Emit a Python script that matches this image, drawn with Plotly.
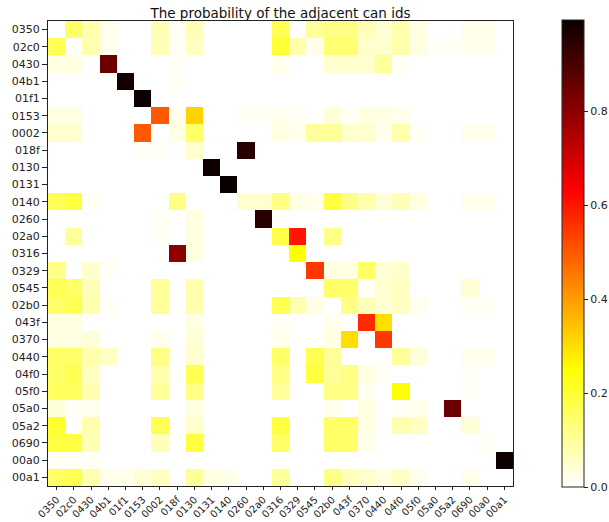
import plotly.graph_objects as go

labels = ["0350", "02c0", "0430", "04b1", "01f1", "0153", "0002", "018f", "0130",
          "0131", "0140", "0260", "02a0", "0316", "0329", "0545", "02b0", "043f",
          "0370", "0440", "04f0", "05f0", "05a0", "05a2", "0690", "00a0", "00a1"]

# probability matrix: rows = current id, columns = adjacent id (order = labels)
z = [
    [0, .15, .08, .02, 0, 0, .07, .01, .07, 0, 0, 0, 0, .17, 0, .10, .12, .12, .07, .04, .08, .03, 0, 0, .02, .02, 0],
    [.17, 0, .08, .02, 0, 0, .07, .01, .06, 0, 0, 0, 0, .20, .08, .02, .14, .14, .05, .05, .08, .03, .01, .01, .02, .02, 0],
    [.03, .03, 0, .85, 0, 0, 0, .01, 0, 0, 0, 0, 0, .02, 0, 0, .05, .05, .05, .10, .01, 0, 0, 0, 0, 0, 0],
    [0, 0, 0, 0, .98, 0, 0, .01, 0, 0, 0, 0, 0, 0, 0, 0, 0, 0, 0, 0, 0, 0, 0, 0, 0, 0, 0],
    [0, 0, 0, 0, 0, .99, 0, 0, 0, 0, 0, 0, 0, 0, 0, 0, 0, 0, 0, 0, 0, 0, 0, 0, 0, 0, 0],
    [.03, .03, 0, 0, 0, 0, .50, .02, .32, 0, 0, .01, .01, .02, .01, 0, .04, .01, .03, .03, .02, 0, 0, 0, 0, 0, 0],
    [.05, .05, 0, 0, 0, .50, 0, .03, .15, 0, 0, 0, 0, .03, .02, .10, .10, .05, .05, .02, .08, .01, 0, 0, .02, .02, 0],
    [0, 0, 0, 0, 0, .01, .01, 0, .05, 0, 0, .95, 0, 0, 0, 0, 0, 0, 0, 0, 0, 0, 0, 0, 0, 0, 0],
    [0, 0, 0, 0, 0, 0, 0, 0, 0, .99, 0, 0, 0, 0, 0, 0, 0, 0, 0, 0, 0, 0, 0, 0, 0, 0, 0],
    [0, 0, 0, 0, 0, 0, 0, 0, 0, 0, .995, 0, 0, 0, 0, 0, 0, 0, 0, 0, 0, 0, 0, 0, 0, 0, 0],
    [.17, .19, .01, 0, 0, 0, 0, .12, 0, 0, 0, .05, .05, .12, .03, .02, .19, .12, .08, .04, .07, .03, 0, 0, .02, .02, 0],
    [0, 0, 0, 0, 0, 0, .01, 0, .03, 0, 0, 0, .95, 0, 0, 0, 0, 0, 0, 0, 0, 0, 0, 0, 0, 0, 0],
    [0, .10, 0, 0, 0, 0, .01, 0, .03, 0, 0, 0, 0, .18, .60, 0, .12, 0, 0, 0, 0, 0, 0, 0, 0, 0, 0],
    [0, 0, 0, 0, 0, 0, 0, .80, .03, 0, 0, 0, 0, 0, .25, 0, 0, 0, 0, 0, 0, 0, 0, 0, 0, 0, 0],
    [.12, 0, .05, .01, 0, 0, 0, 0, 0, 0, 0, 0, 0, 0, 0, .55, .03, .03, .15, .04, .05, 0, 0, 0, 0, 0, 0],
    [.17, .15, .07, 0, 0, 0, .10, 0, .08, 0, 0, 0, 0, 0, 0, 0, .15, .15, .01, .05, .06, 0, 0, 0, .04, 0, 0],
    [.15, .17, .08, .01, 0, 0, .10, 0, .08, 0, 0, 0, 0, .17, .08, .03, 0, .12, .07, .04, .06, .02, 0, 0, .01, .01, 0],
    [.03, .03, 0, 0, 0, 0, 0, 0, .03, 0, 0, 0, 0, .01, 0, 0, .02, 0, .57, .30, 0, 0, 0, 0, 0, 0, 0],
    [.03, .03, .04, 0, 0, 0, .02, 0, .04, 0, 0, 0, 0, .02, 0, 0, .03, .30, 0, .55, 0, 0, 0, 0, 0, 0, 0],
    [.15, .15, .08, .06, 0, 0, .12, 0, .05, 0, 0, 0, 0, .15, 0, .17, .10, 0, 0, 0, .10, .04, 0, 0, .02, .02, 0],
    [.15, .17, .06, 0, 0, 0, .08, 0, .17, 0, 0, 0, 0, .12, 0, .19, .10, .12, .03, .01, 0, 0, 0, 0, .01, 0, 0],
    [.16, .16, .08, 0, 0, 0, .10, 0, .12, 0, 0, 0, 0, .10, 0, 0, .12, .12, .02, 0, .25, 0, 0, 0, .01, 0, 0],
    [.04, .01, .02, 0, 0, 0, 0, 0, .03, 0, 0, 0, 0, 0, 0, 0, .02, 0, .03, 0, .01, .02, 0, .85, 0, 0, 0],
    [.21, 0, .08, 0, 0, 0, .17, 0, .05, 0, 0, 0, 0, .19, 0, 0, .15, .15, .03, 0, .08, .06, 0, 0, .04, 0, 0],
    [.19, .19, .07, 0, 0, 0, .07, 0, .19, 0, 0, 0, 0, .15, 0, 0, .15, .15, .02, 0, 0, 0, 0, 0, 0, .01, 0],
    [.01, .01, .01, 0, 0, 0, 0, 0, 0, 0, 0, 0, 0, 0, 0, 0, 0, 0, 0, 0, 0, 0, 0, 0, 0, 0, .99],
    [.15, .17, .08, .02, .02, .04, .06, 0, .10, .03, .02, 0, 0, .10, 0, 0, .12, .07, .05, .03, .06, .02, 0, 0, .02, 0, 0],
]

cbar_ticks = [0.0, 0.2, 0.4, 0.6, 0.8]
title_text = "The probability of the adjacent can ids"

# matplotlib "hot_r" colormap
hot_r = [
    [0.0, "rgb(255,255,255)"],
    [0.253968, "rgb(255,255,0)"],
    [0.634921, "rgb(255,0,0)"],
    [1.0, "rgb(11,0,0)"],
]

font_family = "DejaVu Sans"

fig = go.Figure(go.Heatmap(
    z=z, x=labels, y=labels,
    colorscale=hot_r,
    zmin=0, zmax=max(max(r) for r in z),
    colorbar=dict(
        x=1.105, xanchor="left", xref="paper",
        y=0.5, yanchor="middle",
        thickness=22, thicknessmode="pixels",
        len=467, lenmode="pixels",
        outlinewidth=1, outlinecolor="#222",
        tickvals=cbar_ticks, ticktext=[f"{v:.1f}" for v in cbar_ticks],
        ticks="outside", ticklen=4, tickcolor="#222",
        tickfont=dict(family=font_family, size=11, color="#222"),
        xpad=0, ypad=0,
    ),
    hoverongaps=False,
))

fig.update_layout(
    width=609, height=522,
    margin=dict(l=48, r=96, t=21, b=36, autoexpand=False),
    paper_bgcolor="white", plot_bgcolor="white",
    title=dict(text=title_text, x=0.5, xref="paper", xanchor="center",
               y=1, yref="paper", yanchor="bottom", pad=dict(b=3),
               font=dict(family=font_family, size=13.5, color="#111")),
    font=dict(family=font_family, size=11, color="#222"),
)

fig.update_xaxes(
    type="category", tickangle=-45, showline=True, linecolor="#222", linewidth=1,
    mirror=True, ticks="outside", ticklen=3, tickcolor="#222", showgrid=False,
    zeroline=False, automargin=False, tickfont=dict(size=10),
)
fig.update_yaxes(
    type="category", autorange="reversed", showline=True, linecolor="#222",
    linewidth=1, mirror=True, ticks="outside", ticklen=5, tickcolor="#222",
    showgrid=False, zeroline=False, automargin=False, tickfont=dict(size=11),
)

fig.write_html("out.html")
